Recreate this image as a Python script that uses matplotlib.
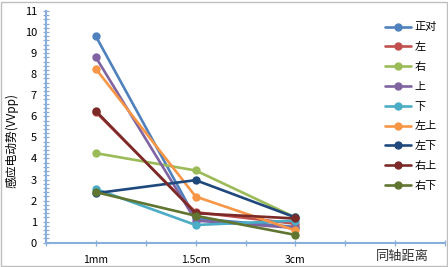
import matplotlib
matplotlib.use("Agg")
import matplotlib.pyplot as plt
from matplotlib.patches import Rectangle

plt.rcParams['font.family'] = ['Noto Sans CJK SC', 'DejaVu Sans']

categories = ["1mm", "1.5cm", "3cm"]
axis_title = "同轴距离"
series_names = ["正对", "左", "右", "上", "下", "左上", "左下", "右上", "右下"]
v_zhengdui = [9.8, 1.15, 0.75]
v_zuo = [6.2, 1.45, 0.9]
v_you = [4.25, 3.43, 1.2]
v_shang = [8.8, 1.05, 0.7]
v_xia = [2.55, 0.84, 1.05]
v_zuoshang = [8.25, 2.19, 0.58]
v_zuoxia = [2.35, 2.97, 1.2]
v_youshang = [6.25, 1.4, 1.15]
v_youxia = [2.4, 1.28, 0.37]
series_values = [v_zhengdui, v_zuo, v_you, v_shang, v_xia,
                 v_zuoshang, v_zuoxia, v_youshang, v_youxia]
colors = ["#4F81BD", "#C0504D", "#9BBB59", "#8064A2", "#4BACC6",
          "#F79646", "#1F497D", "#7B2A28", "#5F7530"]

fig = plt.figure(figsize=(4.48, 2.67), dpi=100)
ax = fig.add_axes([46/448, 1 - 242.7/267, (445-46)/448, (242.7-11)/267])

xpos = [1, 3, 5]
for name, vals, c in zip(series_names, series_values, colors):
    ax.plot(xpos, vals, color=c, lw=1.9, marker='o', ms=5, label=name,
            solid_capstyle='round')

ax.set_xlim(0, 8)
ax.set_ylim(0, 11)
ax.set_yticks(range(0, 12))
ax.set_yticks([i * 0.2 for i in range(56)], minor=True)
ax.set_xticks(range(9))
ax.set_xticklabels(["", categories[0], "", categories[1], "", categories[2], "", "", ""])

axcol = '#88AEDB'
for s in ['top', 'right']:
    ax.spines[s].set_visible(False)
for s in ['left', 'bottom']:
    ax.spines[s].set_color(axcol)
    ax.spines[s].set_linewidth(1.5)
ax.tick_params(axis='y', which='both', direction='inout', length=5, width=0.9,
               color=axcol, labelsize=8, pad=4)
ax.tick_params(axis='x', which='major', direction='inout', length=5, width=0.9,
               color=axcol, labelsize=7.5, pad=6)
ax.patch.set_alpha(0)

fig.text(402/448, 1 - 256/267, axis_title, fontsize=9.5, color='#333333',
         ha='center', va='center')

fig.text(12/448, 1 - 140/267, "感应电动势(VVpp)", rotation=90, fontsize=8.5,
         ha='center', va='center')

fig.legend(loc='upper left', bbox_to_anchor=(381/448, 1 - 18/267), frameon=False,
           fontsize=8, handlelength=2.3, labelspacing=0.88, handletextpad=0.3,
           borderaxespad=0)

fig.patches.append(Rectangle((0.003, 0.004), 0.994, 0.99, transform=fig.transFigure,
                             fill=False, edgecolor='#BFBFBF', lw=1.0))

fig.savefig("out.png", dpi=100)
